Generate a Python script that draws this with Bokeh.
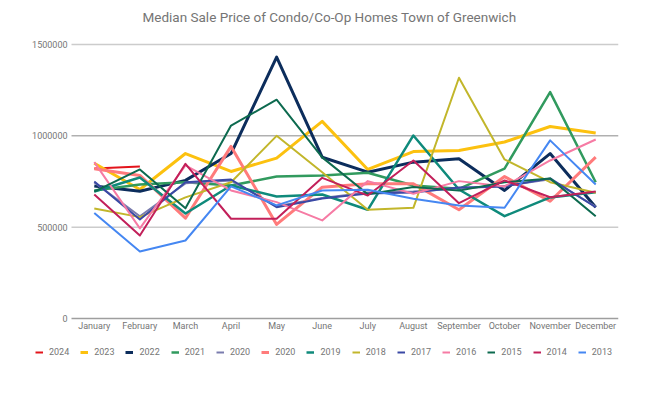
from bokeh.plotting import figure
from bokeh.models import (Range1d, Legend, LegendItem, FixedTicker, ColumnDataSource, Title)
from bokeh.core.properties import value
from bokeh.embed import file_html
from bokeh.resources import INLINE

months = ["January", "February", "March", "April", "May", "June", "July",
          "August", "September", "October", "November", "December"]

y_ticks = [0, 500000, 1000000, 1500000]
y_tick_labels = ["0", "500000", "1000000", "1500000"]
grid_ticks = [500000, 1000000, 1500000]

y2024 = [821000, 832000]
y2023 = [850000, 706000, 903000, 805000, 878000, 1079000, 816000, 914000, 920000, 966000, 1051000, 1015000]
y2022 = [725000, 697000, 756000, 903000, 1431000, 883000, 801000, 856000, 875000, 701000, 903000, 609000]
y2021 = [701000, 734000, 746000, 728000, 777000, 783000, 798000, 728000, 710000, 821000, 1239000, 746000]
y2020a = [745000, 560000, 740000, 755000, 615000, 660000, 690000, 695000, 712000, 726000, 762000, 612000]
y2020b = [820000, 783000, 549000, 942000, 515000, 719000, 737000, 737000, 595000, 777000, 642000, 883000]
y2019 = [695000, 772000, 575000, 728000, 668000, 679000, 595000, 1002000, 706000, 560000, 663000, 691000]
y2018 = [602000, 555000, 663000, 746000, 1000000, 801000, 595000, 606000, 1318000, 871000, 746000, 688000]
y2017 = [750000, 542000, 746000, 761000, 609000, 657000, 684000, 690000, 717000, 723000, 767000, 609000]
y2016 = [856000, 493000, 838000, 701000, 637000, 537000, 752000, 683000, 752000, 723000, 865000, 980000]
y2015 = [695000, 816000, 603000, 1056000, 1198000, 882000, 680000, 720000, 700000, 746000, 767000, 560000]
y2014 = [679000, 454000, 847000, 546000, 546000, 770000, 673000, 865000, 631000, 756000, 664000, 695000]
y2013 = [577000, 367000, 427000, 723000, 619000, 701000, 705000, 655000, 619000, 606000, 975000, 734000]

labels = ["2024", "2023", "2022", "2021", "2020", "2020", "2019", "2018", "2017", "2016", "2015", "2014", "2013"]
values = [y2024, y2023, y2022, y2021, y2020a, y2020b, y2019, y2018, y2017, y2016, y2015, y2014, y2013]
colors = ["#e3141b", "#fcc10f", "#0c2d5c", "#319a5e", "#7a7cae", "#ff7b7b", "#0f8a7b",
          "#c2b62b", "#3a49a5", "#f67ba4", "#0d6a4f", "#c2205a", "#4587f2"]
widths = [2, 3, 3, 2.5, 2, 3, 2.5, 2, 2, 2, 2, 2, 2]

FONT = "Roboto"
GREY = "#757575"

x_idx = list(range(len(months)))
x_lo, x_hi = -0.5, len(months) - 0.5      # category edges of the data area
extra = 43 / (547 / len(months))          # room on the left for labels and legend
per_px = 500000 / 91.3                    # value units per pixel

p = figure(width=645, height=383, x_range=Range1d(x_lo - extra, x_hi),
           y_range=Range1d(-42 * per_px, 1500000 + 8 * per_px), output_backend="svg",
           toolbar_location=None,
           min_border_left=28, min_border_right=27, min_border_top=36, min_border_bottom=23,
           title=None)

p.outline_line_color = None
p.background_fill_color = "white"
p.border_fill_color = "white"
p.xgrid.grid_line_color = None
p.ygrid.grid_line_color = None

spacer = Title(text=" ", text_font_size="1px", standoff=9)
main_title = Title(text="Median Sale Price of Condo/Co-Op Homes Town of Greenwich",
                   align="left", offset=114, standoff=0, text_font=FONT,
                   text_font_size="13.5px", text_font_style="normal", text_color=GREY)
p.add_layout(spacer, "above")
p.add_layout(main_title, "above")

# horizontal grid lines over the data area only
gsrc = ColumnDataSource(dict(y=grid_ticks, x0=[x_lo] * 3, x1=[x_hi] * 3,
                             c=["#cccccc", "#8a8a8a", "#cccccc"], w=[1.5, 1, 1.5]))
p.segment(x0="x0", x1="x1", y0="y", y1="y", line_color="c", line_width="w", source=gsrc)

# y tick labels
p.yaxis.visible = False
p.text(x=[x_lo] * len(y_ticks), y=y_ticks, text=y_tick_labels, x_offset=-4,
       text_align="right", text_baseline="middle", text_font=value(FONT),
       text_font_size="9px", text_color=GREY)

# x axis sitting on the zero line
xa = p.xaxis[0]
xa.fixed_location = 0
xa.bounds = (x_lo, x_hi)
xa.ticker = FixedTicker(ticks=x_idx)
xa.major_label_overrides = {i: m for i, m in zip(x_idx, months)}
xa.axis_line_color = "#9e9e9e"
xa.axis_line_width = 1.5
xa.major_tick_line_color = None
xa.minor_tick_line_color = None
xa.major_tick_in = 0
xa.major_tick_out = 0
xa.minor_tick_in = 0
xa.minor_tick_out = 0
xa.major_label_text_font = FONT
xa.major_label_text_font_size = "9px"
xa.major_label_text_color = GREY
xa.major_label_standoff = 3

items = []
for lab, vals, col, w in zip(labels, values, colors, widths):
    src = ColumnDataSource(dict(x=x_idx[:len(vals)], y=vals))
    r = p.line("x", "y", source=src, line_color=col, line_width=w, line_join="round")
    items.append(LegendItem(label=lab, renderers=[r]))

legend = Legend(items=items, orientation="horizontal", location=(7, 2),
                glyph_width=8, glyph_height=12, label_text_font=FONT,
                label_text_font_size="9px", label_text_color=GREY,
                label_standoff=6, spacing=11, padding=0, margin=0,
                border_line_color=None, background_fill_alpha=0)
p.add_layout(legend, "center")

open("out.html", "w").write(file_html(p, INLINE))
